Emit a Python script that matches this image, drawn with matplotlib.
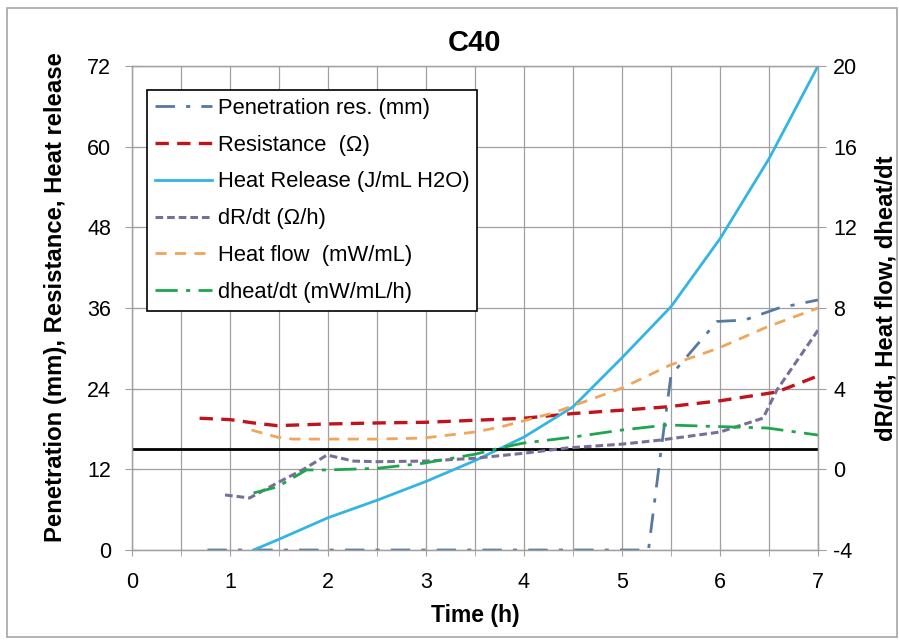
import numpy as np
import matplotlib
matplotlib.use("Agg")
import matplotlib.pyplot as plt
from matplotlib.patches import Rectangle
from matplotlib.ticker import MultipleLocator

plt.rcParams['font.family'] = ['Liberation Sans', 'DejaVu Sans']
plt.rcParams['axes.unicode_minus'] = False

# --- data (time in h) ---
pen_t = [0.77, 1.0, 1.5, 2.0, 2.5, 3.0, 3.5, 4.0, 4.5, 5.0, 5.27, 5.40, 5.50, 5.97, 6.25, 6.6, 7.0]
pen_v = [0, 0, 0, 0, 0, 0, 0, 0, 0, 0, 0, 15.0, 26.0, 34.0, 34.2, 36.0, 37.2]

res_t = [0.69, 1.0, 1.24, 1.48, 2.0, 2.5, 3.0, 3.5, 4.0, 4.5, 5.0, 5.46, 6.0, 6.58, 7.0]
res_v = [19.6, 19.4, 18.9, 18.5, 18.75, 18.9, 19.0, 19.3, 19.6, 20.3, 20.8, 21.3, 22.2, 23.5, 25.9]

hr_t = [1.24, 1.5, 2.0, 2.5, 3.0, 3.5, 4.0, 4.5, 5.0, 5.5, 6.0, 6.5, 7.0]
hr_v = [0, 1.6, 4.8, 7.4, 10.2, 13.3, 16.8, 21.3, 28.6, 36.2, 46.3, 58.2, 72.0]

drdt_t = [0.95, 1.2, 1.48, 1.75, 1.99, 2.26, 2.5, 3.0, 3.5, 4.0, 4.44, 5.0, 5.39, 6.0, 6.44, 6.58, 7.0]
drdt_v = [-1.27, -1.42, -0.68, 0.0, 0.71, 0.41, 0.38, 0.41, 0.55, 0.8, 1.06, 1.25, 1.45, 1.85, 2.54, 3.93, 6.9]

hf_t = [1.22, 1.48, 1.64, 2.0, 2.5, 2.97, 3.5, 3.76, 4.3, 5.0, 5.49, 5.98, 6.48, 7.0]
hf_v = [1.95, 1.6, 1.5, 1.5, 1.5, 1.55, 1.85, 2.1, 2.8, 4.03, 5.17, 6.0, 7.06, 8.0]

dh_t = [1.24, 1.48, 1.78, 2.0, 2.5, 2.97, 3.5, 3.76, 3.99, 4.5, 5.0, 5.46, 6.13, 6.48, 7.0]
dh_v = [-1.17, -0.88, -0.03, -0.03, 0.05, 0.3, 0.75, 1.06, 1.3, 1.6, 1.95, 2.2, 2.1, 2.05, 1.7]

threshold = 15

fig = plt.figure(figsize=(8.99, 6.40), dpi=100)
fig.patches.append(Rectangle((0.008, 0.004), 0.99, 0.984, transform=fig.transFigure,
                             fill=False, edgecolor='#a6a6a6', linewidth=1.2))
ax = fig.add_axes([0.1468, 0.1406, 0.7631, 0.7563])
ax2 = ax.twinx()

grid_c = '#a0a0a0'
ax.set_xlim(0, 7)
ax.set_ylim(0, 72)
ax2.set_ylim(-4, 20)
ax.xaxis.set_major_locator(MultipleLocator(1))
ax.xaxis.set_minor_locator(MultipleLocator(0.5))
ax.yaxis.set_major_locator(MultipleLocator(12))
ax2.yaxis.set_major_locator(MultipleLocator(4))
ax.grid(True, which='both', axis='x', color=grid_c, linewidth=0.9)
ax.grid(True, which='major', axis='y', color=grid_c, linewidth=0.9)
ax.set_axisbelow(True)

for a in (ax, ax2):
    for s in a.spines.values():
        s.set_color(grid_c)
        s.set_linewidth(0.9)
ax.tick_params(axis='x', which='both', direction='inout', length=9, color=grid_c,
               labelsize=15.5, pad=11)
ax.tick_params(axis='y', direction='inout', length=10, color=grid_c, labelsize=15.5, pad=10)
ax2.tick_params(axis='y', direction='out', length=6, color=grid_c, labelsize=15.5, pad=5)

l1, = ax.plot(pen_t, pen_v, color='#55799f', lw=2, dashes=(7, 4, 1.5, 4),
              label='Penetration res. (mm)')
l2, = ax.plot(res_t, res_v, color='#c0141c', lw=2.4, dashes=(4, 2.5),
              label='Resistance  (\u03a9)')
l3, = ax.plot(hr_t, hr_v, color='#33b5e3', lw=2, label='Heat Release (J/mL H2O)')
ax.axhline(threshold, color='black', lw=2)
l4, = ax2.plot(drdt_t, drdt_v, color='#7a6e98', lw=2.2, dashes=(2.5, 1.3),
               label='dR/dt (\u03a9/h)')
l5, = ax2.plot(hf_t, hf_v, color='#f0a55a', lw=2, dashes=(4, 3),
               label='Heat flow  (mW/mL)')
l6, = ax2.plot(dh_t, dh_v, color='#1ea54e', lw=2, dashes=(8, 3, 1.5, 3),
               label='dheat/dt (mW/mL/h)')

ax.set_title('C40', fontsize=21, fontweight='bold', pad=11)
ax.set_xlabel('Time (h)', fontsize=16.5, fontweight='bold', labelpad=8)
ax.set_ylabel('Penetration (mm), Resistance, Heat release', fontsize=17.2,
              fontweight='bold')
ax.yaxis.set_label_coords(-0.094, 0.523)
ax2.set_ylabel('dR/dt, Heat flow, dheat/dt', fontsize=17.2, fontweight='bold')
ax2.yaxis.set_label_coords(1.082, 0.52)

leg = ax2.legend(handles=[l1, l2, l3, l4, l5, l6], loc='upper left',
                 bbox_to_anchor=(0.0219, 0.950), borderaxespad=0, fontsize=15.8,
                 frameon=True, fancybox=False, edgecolor='black', framealpha=1,
                 handlelength=2.6, handletextpad=0.28, labelspacing=0.72,
                 borderpad=0.35)
leg.get_frame().set_linewidth(1.2)

fig.savefig('out.png', dpi=100)
